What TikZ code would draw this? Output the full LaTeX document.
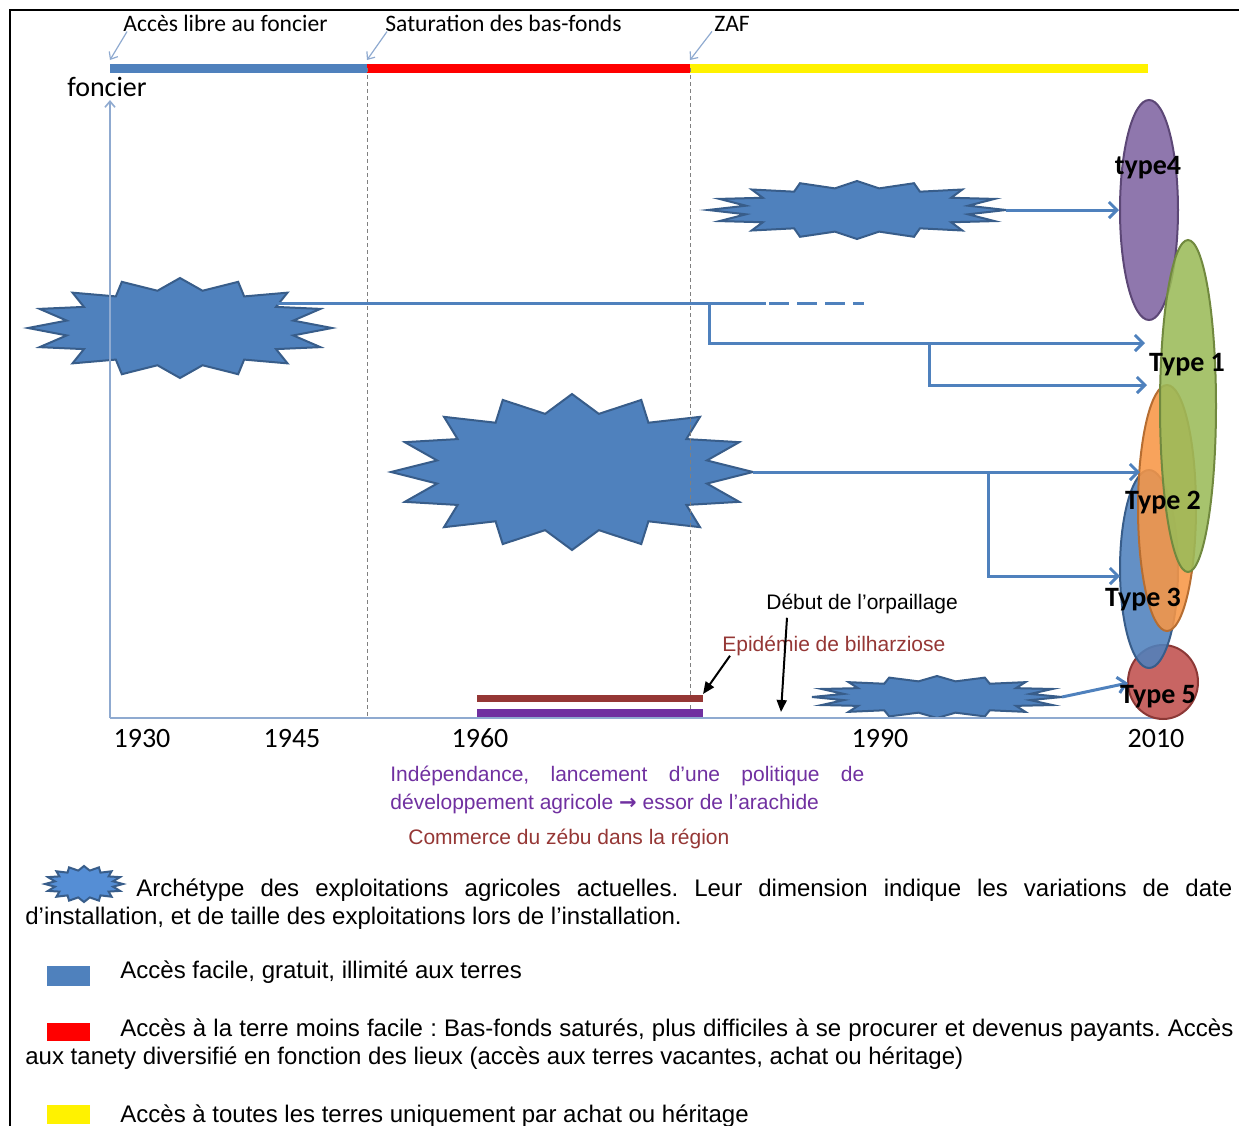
\documentclass[tikz,border=0pt]{standalone}
\usepackage{fontspec}
\setmainfont{Liberation Sans}
\newfontfamily\calibri{Carlito}
\newfontfamily\symb{DejaVu Sans}
\usetikzlibrary{arrows.meta, shapes.geometric}
\frenchspacing

\definecolor{starblue}{HTML}{4F81BD}
\definecolor{stardark}{HTML}{385D8A}
\definecolor{legendblue}{HTML}{558ED5}
\definecolor{axisblue}{HTML}{8FAAD0}
\definecolor{purp}{HTML}{8064A2}
\definecolor{purpdark}{HTML}{5C4776}
\definecolor{olive}{HTML}{9BBB59}
\definecolor{olivedark}{HTML}{71893F}
\definecolor{orng}{HTML}{F79646}
\definecolor{orngdark}{HTML}{B66D31}
\definecolor{rouge}{HTML}{C0504D}
\definecolor{rougedark}{HTML}{8C3836}
\definecolor{zebu}{HTML}{953735}
\definecolor{indep}{HTML}{7030A0}

% 16 point burst: centre coordinate, x radius, y radius
\newcommand{\burst}[4][]{%
  \filldraw[burst,#1,shift={(#2)}] (0:#3 and #4)
    \foreach \i [evaluate=\i as \f using 0.88+0.12*cos(180*\i)] in {1,...,31}
      { -- ({11.25*\i}:{\f*#3} and {\f*#4}) } -- cycle;
  \path[shift={(#2)}] (#3,0) coordinate (#2-e);}

\begin{document}
\begin{tikzpicture}[x=0.5pt, y=-0.5pt,
    burst/.style={fill=starblue, draw=stardark, line width=1pt},
    link/.style={draw=starblue, line width=1.5pt},
    flow/.style={link, -{Straight Barb[length=4pt, width=8pt]}},
    guide/.style={draw=gray, line width=0.5pt, dash pattern=on 2pt off 1.5pt},
    axisline/.style={draw=axisblue, line width=0.8pt},
    pointer/.style={draw=axisblue, line width=0.6pt, -{Straight Barb[length=3pt, width=5pt]}},
    topbar/.style={line width=4.5pt},
    blackarrow/.style={draw=black, line width=1pt, -{Triangle[length=6pt, width=5pt]}},
    typeellipse/.style={ellipse, inner sep=0pt, line width=1pt, fill opacity=0.88},
    typelabel/.style={font=\calibri\bfseries\fontsize{14}{16}\selectfont, inner sep=0pt},
    yeartext/.style={font=\calibri\fontsize{14}{16}\selectfont, anchor=base, inner sep=0pt},
    toptext/.style={font=\calibri\fontsize{11.8}{13}\selectfont, anchor=base west, inner sep=0pt},
    charttext/.style={font=\fontsize{10.5}{14}\selectfont, anchor=base west, inner sep=0pt},
    legendtext/.style={font=\fontsize{12}{14}\selectfont, anchor=base west, inner sep=0pt}
  ]
  \useasboundingbox (0,0) rectangle (1239,1126);
  \draw[line width=1pt] (1239,10) -- (10,10) -- (10,1126);

  % Draw the land access periods
  \coordinate (b0) at (110,68);
  \coordinate (b1) at (367,68);
  \coordinate (b2) at (690,68);
  \coordinate (b3) at (1148,68);
  \draw[topbar, starblue] (b0) -- (b1);
  \draw[topbar, red] (b1) -- (b2);
  \draw[topbar, yellow] (b2) -- (b3);

  \node[toptext] (lAcc) at (123,31) {Accès libre au foncier};
  \node[toptext] (lSat) at (385,31) {Saturation des bas-fonds};
  \node[toptext] (lZaf) at (714,31) {ZAF};
  \draw[pointer] ([xshift=2pt]lAcc.south west) -- ([yshift=4pt]b0);
  \draw[pointer] ([xshift=1pt]lSat.south west) -- ([yshift=4pt]b1);
  \draw[pointer] ([xshift=-1pt]lZaf.south west) -- ([yshift=4pt]b2);

  % Draw the farm archetypes
  \coordinate (sA) at (180,328);
  \coordinate (sB) at (572,472);
  \coordinate (sC) at (857,210);
  \coordinate (sD) at (937,697);
  \burst{sA}{152}{50}
  \burst{sB}{181}{78}
  \burst{sC}{149}{29}
  \burst{sD}{125}{21}

  % Draw the axes
  \coordinate (o) at (110,718);
  \coordinate (oy) at (110,100);
  \coordinate (ox) at (1160,718);
  \draw[guide] (b1) -- (b1 |- o);
  \draw[guide] (b2) -- (b2 |- o);
  \draw[axisline] (o) -- (ox);
  \draw[axisline, -{Straight Barb[length=3pt, width=5pt]}] (o) -- (oy);
  \node[yeartext] (foncier) at (107,96) {foncier};
  \node[yeartext] (y1930) at (142,747) {1930};
  \node[yeartext] (y1945) at (292,747) {1945};
  \node[yeartext] (y1960) at (480,747) {1960};
  \node[yeartext] (y1990) at (880,747) {1990};
  \node[yeartext] (y2010) at (1156,747) {2010};

  % Draw the farm types
  \node[typeellipse, fill=purp, draw=purpdark, minimum width=29pt, minimum height=110pt] (t4) at (1149,210) {};
  \node[typeellipse, fill=rouge, draw=rougedark, minimum width=35pt, minimum height=37pt] (t5) at (1163,682) {};
  \node[typeellipse, fill=starblue, draw=stardark, minimum width=29pt, minimum height=99pt] (t3) at (1149,569) {};
  \node[typeellipse, fill=orng, draw=orngdark, minimum width=29pt, minimum height=123pt] (t2) at (1167,508) {};
  \node[typeellipse, fill=olive, draw=olivedark, minimum width=28pt, minimum height=166pt] (t1) at (1188,406) {};

  % Draw the trajectories
  \coordinate (aOut) at (277,303);
  \coordinate (aSplit) at (709,303);
  \coordinate (aDash) at (766,303);
  \coordinate (aEnd) at (864,303);
  \coordinate (aSplit2) at (929,343);
  \coordinate (t1a) at (1145,343);
  \coordinate (t1b) at (1147,385);
  \coordinate (bSplit) at (988,472);
  \coordinate (t2a) at (1140,472);
  \coordinate (t3a) at (1120,576);
  \coordinate (t5a) at (1128,683);
  \draw[link] (aOut) -- (aDash);
  \draw[link, dash pattern=on 10pt off 4pt] ([xshift=1.5pt]aDash) -- (aEnd);
  \draw[flow] (aSplit) |- (t1a);
  \draw[flow] (aSplit2) |- (t1b);
  \draw[flow] (sB-e) -- (t2a);
  \draw[flow] (bSplit) |- (t3a);
  \draw[flow] (sC-e) -- (t4.west);
  \draw[flow] (sD-e) -- (t5a);

  % Label the farm types
  \node[typelabel] (l4) at (1148,168) {type4};
  \node[typelabel] (l1) at (1187,365) {Type 1};
  \node[typelabel] (l2) at (1163,503) {Type 2};
  \node[typelabel] (l3) at (1143,600) {Type 3};
  \node[typelabel] (l5) at (1158,697) {Type 5};

  % Draw the events
  \coordinate (zeb0) at (477,698);
  \coordinate (zeb1) at (703,698);
  \coordinate (ind0) at (477,713);
  \coordinate (ind1) at (703,713);
  \coordinate (orp) at (781,712);
  \draw[zebu, line width=3.5pt] (zeb0) -- (zeb1);
  \draw[indep, line width=4pt] (ind0) -- (ind1);
  \node[charttext] (lDeb) at (766,609) {Début de l’orpaillage};
  \node[charttext, text=zebu] (lEpi) at (722,651) {Epidémie de bilharziose};
  \draw[blackarrow] ([xshift=4pt]lEpi.south west) -- ([yshift=2pt]zeb1);
  \draw[blackarrow] ([xshift=10.5pt, yshift=-2pt]lDeb.south west) -- (orp);
  \node[charttext, text=indep, align=left] (lInd) at (390,809)
    {\makebox[237pt][s]{Indépendance, lancement d’une politique de}\\
     développement agricole {\symb\bfseries →} essor de l’arachide};
  \node[charttext, text=zebu] (lZeb) at (408,844) {Commerce du zébu dans la région};

  % Label the legend
  \coordinate (sL) at (84,884);
  \burst[fill=legendblue]{sL}{39}{18}
  \node[legendtext] (k1a) at (136,896)
    {\makebox[548pt][s]{Archétype des exploitations agricoles actuelles. Leur dimension indique les variations de date}};
  \node[legendtext] (k1b) at (25,924)
    {d’installation, et de taille des exploitations lors de l’installation.};
  \fill[starblue] (47,966) rectangle (90,986);
  \node[legendtext] (k2) at (120,978) {Accès facile, gratuit, illimité aux terres};
  \fill[red] (47,1023) rectangle (90,1041);
  \node[legendtext] (k3a) at (120,1036)
    {\makebox[556.5pt][s]{Accès à la terre moins facile : Bas-fonds saturés, plus difficiles à se procurer et devenus payants. Accès}};
  \node[legendtext] (k3b) at (25,1064)
    {aux tanety diversifié en fonction des lieux (accès aux terres vacantes, achat ou héritage)};
  \fill[yellow] (47,1105) rectangle (90,1124);
  \node[legendtext] (k4) at (120,1122) {Accès à toutes les terres uniquement par achat ou héritage};
\end{tikzpicture}
\end{document}
